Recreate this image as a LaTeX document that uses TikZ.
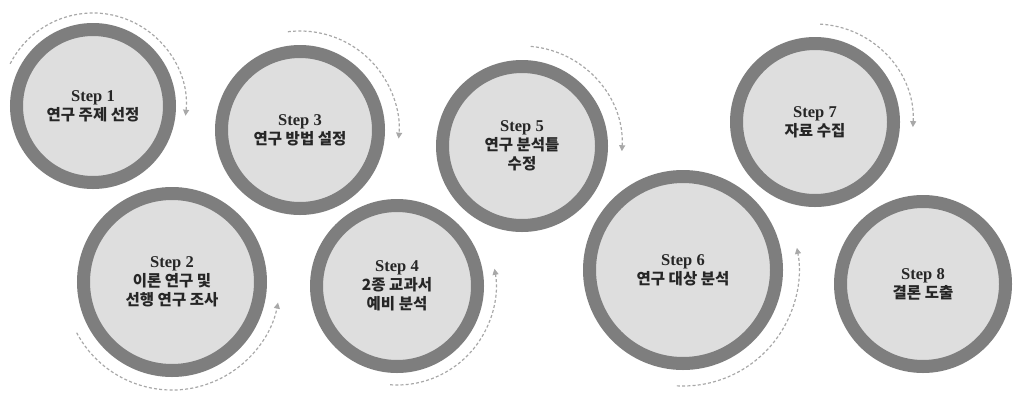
\documentclass[tikz,border=0pt]{standalone}
\usepackage{fontspec}
\setmainfont{Liberation Serif}
\newfontfamily\kr{Noto Sans CJK KR}
\usetikzlibrary{arrows.meta}
\definecolor{ringgray}{HTML}{7E7E7E}
\definecolor{fillgray}{HTML}{DEDEDE}
\definecolor{dashgray}{HTML}{A8A8A8}
\tikzset{
  stepcircle/.style={circle, draw=ringgray, fill=fillgray, line width=13pt,
    inner sep=0pt, minimum size=#1, align=center, font=\fontsize{16.5}{19}\selectfont\bfseries, text=black!85},
  flowarc/.style={draw=dashgray, line width=1.2pt, dash pattern=on 3pt off 2.2pt,
    -{Triangle[length=6pt,width=6pt,fill=dashgray]}},
}
\newcommand{\kt}[1]{{\kr\fontsize{15.5}{19}\selectfont\bfseries #1}}
\begin{document}
\begin{tikzpicture}[x=1pt,y=1pt]
\useasboundingbox (0,0) rectangle (1014,-394);
% circles: minimum size = 2r - 13
\node[stepcircle=153pt] (s1) at (93,-106) {Step 1\\\kt{연구 주제 선정}};
\node[stepcircle=177pt] (s2) at (172,-282) {Step 2\\\kt{이론 연구 및}\\\kt{선행 연구 조사}};
\node[stepcircle=157pt] (s3) at (300,-130) {Step 3\\\kt{연구 방법 설정}};
\node[stepcircle=161pt] (s4) at (397,-286) {Step 4\\\kt{2종 교과서}\\\kt{예비 분석}};
\node[stepcircle=159pt] (s5) at (522,-146) {Step 5\\\kt{연구 분석틀}\\\kt{수정}};
\node[stepcircle=187pt] (s6) at (683,-270) {Step 6\\\kt{연구 대상 분석}};
\node[stepcircle=157pt] (s7) at (815,-122) {Step 7\\\kt{자료 수집}};
\node[stepcircle=165pt] (s8) at (923,-284) {Step 8\\\kt{결론 도출}};
% dashed arcs
\draw[flowarc] ([shift={(153:93)}]s1.center) arc[start angle=153, end angle=-6, radius=93];
\draw[flowarc] ([shift={(208:108)}]s2.center) arc[start angle=208, end angle=349, radius=108];
\draw[flowarc] ([shift={(97:99)}]s3.center) arc[start angle=97, end angle=-5, radius=99];
\draw[flowarc] ([shift={(-94:99)}]s4.center) arc[start angle=-94, end angle=10, radius=99];
\draw[flowarc] ([shift={(85:100)}]s5.center) arc[start angle=85, end angle=-3, radius=100];
\draw[flowarc] ([shift={(-93:116)}]s6.center) arc[start angle=-93, end angle=11, radius=116];
\draw[flowarc] ([shift={(87:98)}]s7.center) arc[start angle=87, end angle=-3, radius=98];
\end{tikzpicture}
\end{document}
